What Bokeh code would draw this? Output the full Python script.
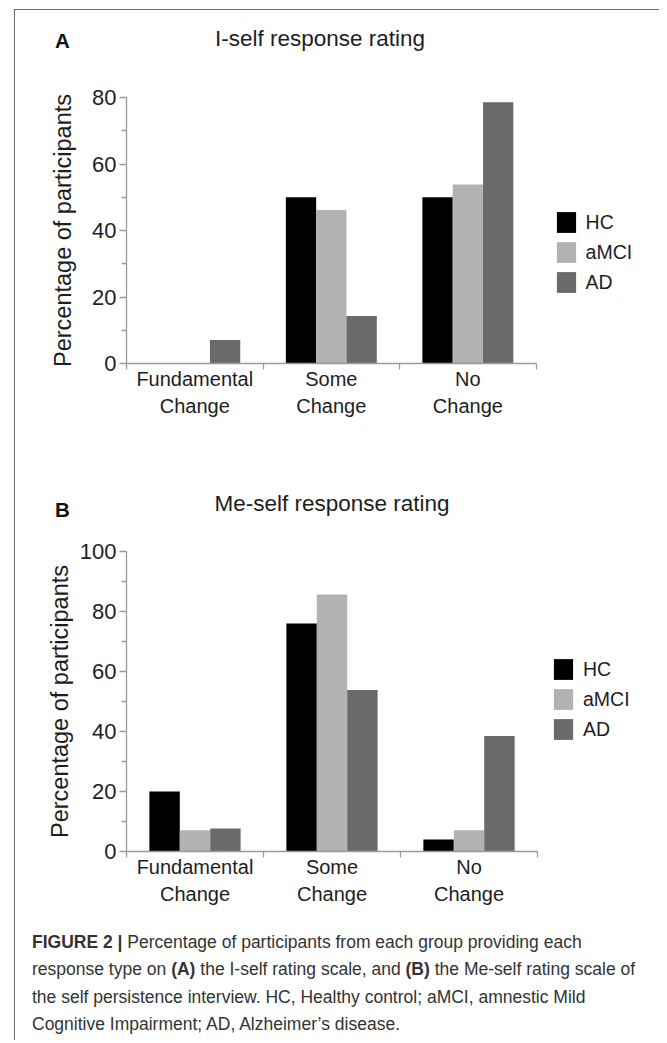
from bokeh.plotting import figure
from bokeh.models import Range1d, FixedTicker, Legend, LegendItem, Div
from bokeh.layouts import column
from bokeh.embed import file_html
from bokeh.resources import INLINE

# ---------------- data ----------------
categories = ["Fundamental Change", "Some Change", "No Change"]
groups = ["HC", "aMCI", "AD"]

iself_hc = [0.0, 50.0, 50.0]
iself_amci = [0.0, 46.2, 53.8]
iself_ad = [7.1, 14.3, 78.6]

meself_hc = [20.0, 76.0, 4.0]
meself_amci = [7.1, 85.7, 7.1]
meself_ad = [7.7, 53.8, 38.5]

iself_yticks = [0, 20, 40, 60, 80]
meself_yticks = [0, 20, 40, 60, 80, 100]

caption_lines = [
    '<b>FIGURE 2 |</b> Percentage of participants from each group providing each',
    'response type on <b>(A)</b> the I-self rating scale, and <b>(B)</b> the Me-self rating scale of',
    'the self persistence interview. HC, Healthy control; aMCI, amnestic Mild',
    'Cognitive Impairment; AD, Alzheimer\u2019s disease.',
]

# ---------------- style ----------------
FONT = "Liberation Sans"
COLORS = ["#000000", "#b2b2b2", "#6a6a6a"]
AXIS_C = "#9a9a9a"
TEXT_C = "#1e1e1e"
BAR_W = 0.222
W = 644


def header_div(letter, title, height, letter_top, title_top, title_center):
    html = (
        f'<div style="position:relative;width:{W}px;height:{height}px;'
        f'font-family:\'{FONT}\',sans-serif;color:{TEXT_C};">'
        f'<div style="position:absolute;left:40px;top:{letter_top}px;font-size:20.5px;'
        f'line-height:1;font-weight:bold;color:#111111;">{letter}</div>'
        f'<div style="position:absolute;left:{title_center - 200}px;width:400px;top:{title_top}px;'
        f'font-size:22.5px;line-height:1;text-align:center;white-space:nowrap;">{title}</div>'
        '</div>'
    )
    return Div(text=html, width=W, height=height, margin=0)


def make_panel(series, yticks, height, borders, axis_px, ylab_standoff, legend_loc):
    left, right, top, bottom = borders
    n = len(categories)
    frame_w = W - left - right
    x_end = n * frame_w / axis_px          # room to the right of the axis for the legend
    p = figure(width=W, height=height, output_backend="svg", toolbar_location=None,
               x_range=Range1d(0, x_end), y_range=Range1d(yticks[0], yticks[-1]),
               min_border_left=left, min_border_right=right,
               min_border_top=top, min_border_bottom=bottom)
    p.outline_line_color = None
    p.xgrid.visible = False
    p.ygrid.visible = False
    p.background_fill_color = "white"
    p.border_fill_color = "white"

    renderers = []
    for j, vals in enumerate(series):
        xs = [i + 0.5 + (j - 1) * BAR_W for i in range(n)]
        r = p.vbar(x=xs, top=vals, bottom=0, width=BAR_W,
                   fill_color=COLORS[j], line_color=None)
        renderers.append(r)

    # x axis: labels at category centres, ticks at category boundaries
    centres = [i + 0.5 for i in range(n)]
    bounds = [float(i) for i in range(n + 1)]
    xa = p.xaxis[0]
    xa.bounds = (0, n)
    xa.ticker = FixedTicker(ticks=centres, minor_ticks=bounds)
    xa.major_label_overrides = {c: lab.replace(" ", "\n") for c, lab in zip(centres, categories)}
    xa.axis_line_color = AXIS_C
    xa.axis_line_width = 1.3
    xa.major_tick_out = 0
    xa.major_tick_in = 0
    xa.major_tick_line_color = None
    xa.minor_tick_out = 6
    xa.minor_tick_in = 0
    xa.minor_tick_line_color = AXIS_C
    xa.minor_tick_line_width = 1.3
    xa.major_label_text_font = FONT
    xa.major_label_text_font_size = "20px"
    xa.major_label_text_color = TEXT_C
    xa.major_label_text_line_height = 1.25
    xa.major_label_standoff = -2

    # y axis
    minor = [(a + b) / 2 for a, b in zip(yticks[:-1], yticks[1:])]
    ya = p.yaxis[0]
    ya.ticker = FixedTicker(ticks=yticks, minor_ticks=minor)
    ya.axis_line_color = AXIS_C
    ya.axis_line_width = 1.3
    ya.major_tick_line_color = AXIS_C
    ya.minor_tick_line_color = AXIS_C
    ya.major_tick_line_width = 1.3
    ya.minor_tick_line_width = 1.3
    ya.major_tick_out = 7
    ya.major_tick_in = 0
    ya.minor_tick_out = 5
    ya.minor_tick_in = 0
    ya.major_label_text_font = FONT
    ya.major_label_text_font_size = "22px"
    ya.major_label_text_color = TEXT_C
    ya.major_label_standoff = 3
    ya.axis_label = "Percentage of participants"
    ya.axis_label_text_font = FONT
    ya.axis_label_text_font_size = "23.5px"
    ya.axis_label_text_font_style = "normal"
    ya.axis_label_text_color = TEXT_C
    ya.axis_label_standoff = ylab_standoff

    legend = Legend(items=[LegendItem(label=g, renderers=[r]) for g, r in zip(groups, renderers)],
                    location=legend_loc, orientation="vertical",
                    glyph_width=24, glyph_height=26, label_height=26, spacing=4,
                    padding=0, margin=0, label_standoff=8,
                    border_line_color=None, background_fill_alpha=0,
                    label_text_font=FONT, label_text_font_size="19.5px",
                    label_text_color=TEXT_C)
    p.add_layout(legend)
    return p


hA = header_div("A", "I-self response rating", 71, 20.6, 18, 305)
pA = make_panel([iself_hc, iself_amci, iself_ad], iself_yticks,
                height=369, borders=(108, 10, 16, 87), axis_px=412, ylab_standoff=13,
                legend_loc=(427.6, 67.6))

hB = header_div("B", "Me-self response rating", 85, 49.6, 43, 317)
pB = make_panel([meself_hc, meself_amci, meself_ad], meself_yticks,
                height=373, borders=(111, 10, 16, 55), axis_px=411, ylab_standoff=4,
                legend_loc=(425, 108.6))

caption_html = (
    f'<div style="font-family:\'{FONT}\',sans-serif;font-size:17.5px;line-height:27.3px;'
    'color:#333333;white-space:nowrap;padding:21px 0 0 17px;">'
    + '<br>'.join(caption_lines) + '</div>'
)
cap = Div(text=caption_html, width=W, height=132, margin=0)

layout = column(hA, pA, hB, pB, cap, margin=(9, 0, 0, 14),
                styles={"border-left": "1px solid #6e6e6e", "border-top": "1px solid #6e6e6e"})

open("out.html", "w").write(file_html(layout, INLINE))
